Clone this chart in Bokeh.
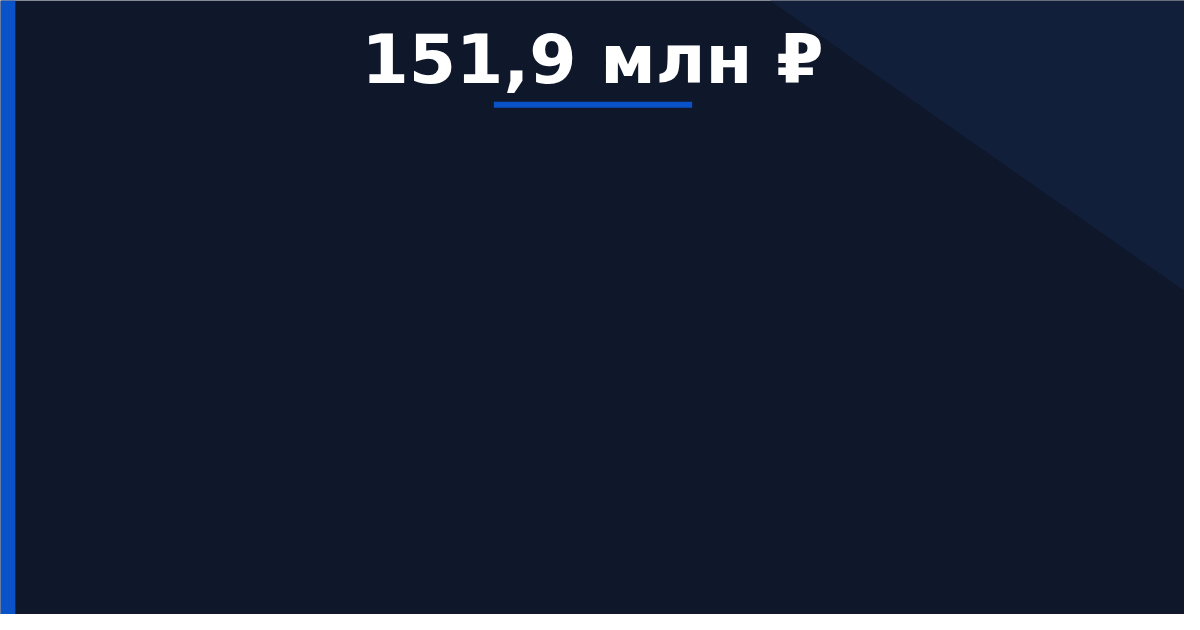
from bokeh.plotting import figure
from bokeh.models import Range1d
from bokeh.core.properties import value
from bokeh.embed import file_html
from bokeh.resources import INLINE

# Data
amount_millions = [151.9]
labels = ["151,9 млн ₽"]

BG = "#0f172a"
TRI = "#111f3a"
BLUE = "#0a52c8"

W, H = 1184, 614
p = figure(width=W, height=H, output_backend="svg", toolbar_location=None,
           x_range=Range1d(0, 1200), y_range=Range1d(630, 0),
           min_border=0, background_fill_color=BG, border_fill_color=BG)
p.axis.visible = False
p.grid.visible = False
p.outline_line_color = None

# decorative corner triangle
p.patch(x=[780, 1200, 1200], y=[0, 0, 298], fill_color=TRI, line_color=None)
# left accent bar
p.quad(left=[0], right=[15], top=[0], bottom=[630], fill_color=BLUE, line_color=None)

# headline value
p.text(x=[600], y=[61], text=labels, text_align="center", text_baseline="middle",
       text_font=value("DejaVu Sans"), text_font_style="bold", text_font_size="68px",
       text_color="#ffffff")
# underline
p.quad(left=[500], right=[701], top=[104], bottom=[110], fill_color=BLUE, line_color=None)

open("out.html", "w").write(file_html(p, INLINE))
